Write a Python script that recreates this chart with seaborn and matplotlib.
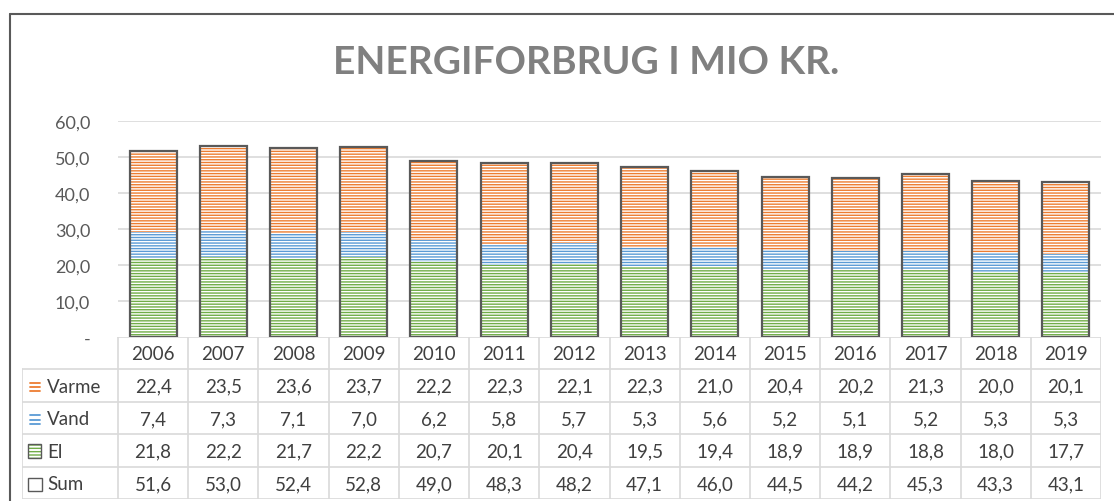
import matplotlib
matplotlib.use("Agg")
import matplotlib.pyplot as plt
import seaborn as sns
from matplotlib.patches import Rectangle
from matplotlib.lines import Line2D

####Data
years = ["2006", "2007", "2008", "2009", "2010", "2011", "2012",
         "2013", "2014", "2015", "2016", "2017", "2018", "2019"]
varme = [22.4, 23.5, 23.6, 23.7, 22.2, 22.3, 22.1, 22.3, 21.0, 20.4, 20.2, 21.3, 20.0, 20.1]
vand = [7.4, 7.3, 7.1, 7.0, 6.2, 5.8, 5.7, 5.3, 5.6, 5.2, 5.1, 5.2, 5.3, 5.3]
el = [21.8, 22.2, 21.7, 22.2, 20.7, 20.1, 20.4, 19.5, 19.4, 18.9, 18.9, 18.8, 18.0, 17.7]
total = [51.6, 53.0, 52.4, 52.8, 49.0, 48.3, 48.2, 47.1, 46.0, 44.5, 44.2, 45.3, 43.3, 43.1]
series_names = ["Varme", "Vand", "El", "Sum"]
yticks = [0, 10, 20, 30, 40, 50, 60]

####Colours
c_varme = "#ED7D31"
c_vand = "#5B9BD5"
c_el = "#70AD47"
c_sum = "#595959"
c_grid = "#D9D9D9"
c_text = "#404040"

sns.set_theme(style="white")
plt.rcParams["font.family"] = ["Lato", "DejaVu Sans"]
plt.rcParams["hatch.linewidth"] = 1.0

W, H = 1114, 502
fig = plt.figure(figsize=(W / 100, H / 100), dpi=100)

def fx(px):
    return px / W

def fy(py):
    return 1 - py / H

####Main bar axes
left, right = 118, 1101
ax = fig.add_axes([fx(left), fy(338), fx(right - left), fy(122) - fy(338)])

stack_top = [a + b + c for a, b, c in zip(el, vand, varme)]
stack_mid = [a + b for a, b in zip(el, vand)]
bw = 0.67

layers = [(stack_top, c_varme), (stack_mid, c_vand), (el, c_el)]
for vals, col in layers:
    n0 = len(ax.patches)
    sns.barplot(x=years, y=vals, color=col, width=bw, ax=ax, zorder=2)
    for p in ax.patches[n0:]:
        p.set_facecolor("white")
        p.set_edgecolor(col)
        p.set_linewidth(0)
        p.set_hatch("------")

n0 = len(ax.patches)
sns.barplot(x=years, y=total, color=c_sum, width=bw, ax=ax, zorder=3)
for p in ax.patches[n0:]:
    p.set_facecolor("none")
    p.set_edgecolor(c_sum)
    p.set_linewidth(1.6)

ax.set_xlim(-0.5, len(years) - 0.5)
ax.set_ylim(0, 60)
ax.set_yticks(yticks)
ax.set_yticklabels(["-" if v == 0 else f"{v:.1f}".replace(".", ",") for v in yticks],
                   color="#595959", fontsize=13)
ax.tick_params(axis="y", length=0, pad=20)
ax.set_xticks([])
ax.set_xlabel("")
ax.set_ylabel("")
for y in yticks[1:]:
    ax.axhline(y, color=c_grid, lw=1.2, zorder=0)
for s in ax.spines.values():
    s.set_visible(False)

####Data table
tleft = 22
ncols = len(years)
colw = (right - left) / ncols
lab_units = (left - tleft) / colw
tab = fig.add_axes([fx(tleft), fy(500), fx(right - tleft), fy(338) - fy(500)])
tab.set_xlim(-0.5 - lab_units, ncols - 0.5)
tab.set_ylim(5, 0)
tab.axis("off")

xl = -0.5 - lab_units
# horizontal lines
tab.plot([-0.5, ncols - 0.5], [0, 0], color=c_grid, lw=1.2)
for r in range(1, 6):
    tab.plot([xl, ncols - 0.5], [r, r], color=c_grid, lw=1.2)
# vertical lines
tab.plot([xl, xl], [1, 5], color=c_grid, lw=1.2)
for c in range(ncols + 1):
    tab.plot([c - 0.5, c - 0.5], [0, 5], color=c_grid, lw=1.2)

rows = [varme, vand, el, total]
for i, yr in enumerate(years):
    tab.text(i, 0.52, yr, ha="center", va="center", fontsize=13.5, color=c_text)
    for r, vals in enumerate(rows):
        tab.text(i, r + 1.52, f"{vals[i]:.1f}".replace(".", ","),
                 ha="center", va="center", fontsize=13.5, color=c_text)

# row labels with legend keys
kx = xl + 0.11
tx = xl + 0.36
for r, name in enumerate(series_names):
    yc = r + 1.5
    tab.text(tx, yc + 0.02, name, ha="left", va="center", fontsize=13.5, color=c_text)
for r, col in [(0, c_varme), (1, c_vand)]:
    yc = r + 1.55
    for dy in (-0.13, 0, 0.13):
        tab.plot([kx, kx + 0.14], [yc + dy, yc + dy], color=col, lw=1.3)
# El key: hatched green square
tab.add_patch(Rectangle((kx - 0.02, 3.3), 0.18, 0.42, facecolor="white",
                        edgecolor=c_el, hatch="-----", lw=0))
tab.add_patch(Rectangle((kx - 0.02, 3.3), 0.18, 0.42, facecolor="none",
                        edgecolor=c_sum, lw=1.0))
# Sum key: empty square
tab.add_patch(Rectangle((kx - 0.02, 4.34), 0.2, 0.42, facecolor="none",
                        edgecolor=c_sum, lw=1.0))

####Title and frame
fig.text(fx(586), fy(62), "ENERGIFORBRUG I MIO KR.", ha="center", va="center",
         fontsize=28, fontweight="bold", color="#808080")
fig.add_artist(Line2D([fx(10), 1], [fy(15), fy(15)], color=c_sum, lw=1.5))
fig.add_artist(Line2D([fx(10), fx(10)], [0, fy(15)], color=c_sum, lw=1.5))

fig.savefig("out.png", dpi=100)
